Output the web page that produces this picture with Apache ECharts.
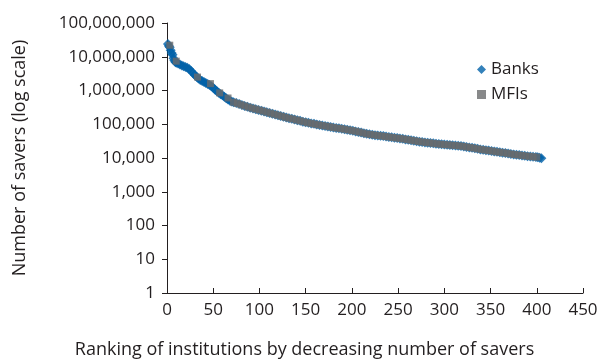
<!DOCTYPE html>
<html>
<head>
<meta charset="utf-8">
<script src="https://cdn.jsdelivr.net/npm/echarts@6/dist/echarts.min.js"></script>
<style>
  html, body { margin: 0; padding: 0; background: #fff; }
  #chart { width: 609px; height: 362px; }
</style>
</head>
<body>
<div id="chart"></div>
<script>
  // ranking vs number of savers
  const bankRanks = [1,2,3,4,5,6,7,8,9,10,12,14,16,18,20,22,24,26,28,30,32,34,36,38,40,42,44,46,48,50,
    52,54,56,58,60,62,64,66,68,70,72,75,78,81,84,87,90,93,96,99,102,105,108,111,114,117,120,123,126,129,
    132,135,138,141,144,147,150,153,156,159,162,165,168,171,174,177,180,183,186,189,192,195,198,201,204,
    207,210,213,216,219,222,225,228,231,234,237,240,243,246,249,252,255,258,261,264,267,270,273,276,279,
    282,285,288,291,294,297,300,303,306,309,312,315,318,321,324,327,330,333,336,339,342,345,348,351,354,
    357,360,363,366,369,372,375,378,381,384,387,390,393,396,399,401,403,405];
  const bankSavers = [24000000,21000000,19000000,15500000,13000000,11500000,9000000,7800000,7000000,6600000,
    6300000,5900000,5500000,5200000,5000000,4700000,4300000,3800000,3300000,2900000,2550000,2250000,2050000,
    1900000,1780000,1680000,1560000,1450000,1330000,1200000,1060000,950000,860000,780000,720000,650000,590000,
    540000,500000,470000,450000,425000,400000,370000,350000,330000,310000,295000,280000,265000,252000,240000,
    228000,216000,205000,194000,184000,176000,167000,158000,151000,145000,139000,132000,126000,119000,114000,
    110000,106000,103000,99000,95000,92000,89000,86000,83000,80000,78000,76000,74000,71000,69000,66000,64000,
    61000,59000,56500,54000,52000,50500,49000,47500,46500,45500,44500,43000,42000,41000,40000,39000,38000,
    37000,35500,34500,33500,32500,31500,30500,29800,29000,28400,27800,27200,26600,26000,25500,25000,24600,
    24200,23800,23400,23000,22500,22000,21300,20600,20000,19300,18700,18000,17500,17000,16600,16100,15600,
    15200,14800,14400,14000,13600,13200,12800,12500,12200,11900,11600,11300,11100,10900,10700,10500,10200,9900];

  const mfiRanks = [3,10,33,47,57,66,72,76,80,84,88,92,96,100,104,108,112,116,120,124,128,132,136,140,144,
    148,152,156,160,164,168,172,176,180,184,188,192,196,200,204,208,212,216,220,224,228,232,236,240,244,248,
    252,256,260,264,268,272,276,280,284,288,292,296,300,304,308,312,316,320,324,328,332,336,340,344,348,352,
    356,360,364,368,372,376,380,384,388,392,396,400];
  const mfiSavers = [22000000,7400000,2500000,1600000,850000,600000,450000,415000,380000,350000,322000,300000,
    280000,262000,244000,228000,212000,198000,185000,173000,161000,151000,143000,134000,126000,118000,111000,
    106000,101000,96000,92000,88000,84000,80000,77000,74500,71000,68000,65000,62000,58500,55000,52000,50000,
    48000,46500,45000,43500,42000,40500,39200,38000,36500,35000,33500,32200,31000,29800,28900,28000,27200,
    26400,25700,25000,24500,24000,23400,22800,22200,21300,20500,19600,18700,17900,17200,16600,16000,15300,
    14800,14300,13800,13200,12700,12300,11900,11500,11200,10900,10600];

  const xTicks = [0, 50, 100, 150, 200, 250, 300, 350, 400, 450];

  const textColor = '#231f20';
  const fontFamily = 'Open Sans';

  const chart = echarts.init(document.getElementById('chart'), null, { renderer: 'canvas' });
  chart.setOption({
    animation: false,
    title: {
      text: 'Ranking of institutions by decreasing number of savers',
      left: 'center',
      top: 336,
      textStyle: { fontFamily: fontFamily, fontSize: 18, fontWeight: 'normal', color: textColor }
    },
    legend: {
      orient: 'vertical',
      left: 472,
      top: 56,
      itemWidth: 9,
      itemHeight: 9,
      itemGap: 8,
      textStyle: { fontFamily: fontFamily, fontSize: 17, color: textColor },
      data: [{ name: 'Banks', icon: 'diamond' }, { name: 'MFIs', icon: 'rect' }]
    },
    grid: { left: 167, right: 26, top: 23, bottom: 69 },
    xAxis: {
      type: 'value',
      min: xTicks[0],
      max: xTicks[xTicks.length - 1],
      interval: 50,
      splitLine: { show: false },
      axisLine: { lineStyle: { color: textColor, width: 1 } },
      axisTick: { inside: true, length: 5, lineStyle: { color: textColor } },
      axisLabel: { margin: 9, fontFamily: fontFamily, fontSize: 17, color: textColor }
    },
    yAxis: {
      type: 'log',
      logBase: 10,
      min: 1,
      max: 100000000,
      interval: 1,
      name: 'Number of savers (log scale)',
      nameLocation: 'middle',
      nameGap: 138,
      nameTextStyle: { fontFamily: fontFamily, fontSize: 18, color: textColor },
      splitLine: { show: false },
      axisLine: { show: true, lineStyle: { color: textColor, width: 1 } },
      axisTick: { show: true, length: 5, lineStyle: { color: textColor } },
      axisLabel: {
        margin: 12,
        fontFamily: fontFamily,
        fontSize: 17,
        color: textColor,
        formatter: v => Math.round(v).toLocaleString('en-US')
      }
    },
    series: [
      {
        name: 'Banks',
        type: 'scatter',
        symbol: 'diamond',
        symbolSize: 10,
        itemStyle: { color: '#0062a9' },
        data: bankRanks.map((r, i) => [r, bankSavers[i]])
      },
      {
        name: 'MFIs',
        type: 'scatter',
        symbol: 'rect',
        symbolSize: 7,
        itemStyle: { color: '#6a6b6d' },
        data: mfiRanks.map((r, i) => [r, mfiSavers[i]])
      }
    ]
  });
</script>
</body>
</html>
